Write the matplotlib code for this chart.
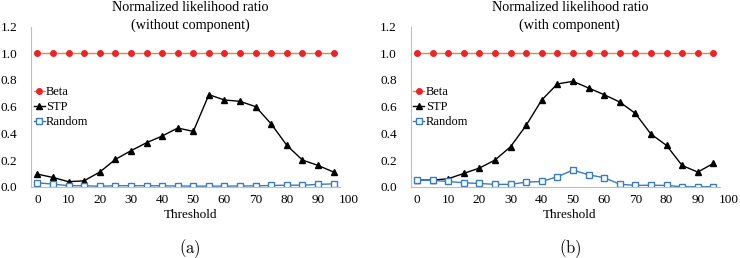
import matplotlib
matplotlib.use("Agg")
import matplotlib.pyplot as plt
from matplotlib import rcParams

rcParams.update({
    "font.family": "serif",
    "font.serif": ["Liberation Serif", "DejaVu Serif"],
    "mathtext.fontset": "cm",
    "font.size": 10,
})

thresholds = [0, 5, 10, 15, 20, 25, 30, 35, 40, 45, 50, 55, 60, 65, 70, 75, 80, 85, 90, 95]
beta = [1.0] * 20

stp_without = [0.095, 0.07, 0.038, 0.045, 0.11, 0.205, 0.27, 0.33, 0.38, 0.44,
               0.415, 0.69, 0.65, 0.64, 0.60, 0.47, 0.31, 0.20, 0.16, 0.11]
random_without = [0.03, 0.02, 0.008, 0.008, 0.004, 0.008, 0.008, 0.008, 0.007, 0.006,
                  0.005, 0.005, 0.005, 0.006, 0.007, 0.01, 0.012, 0.012, 0.018, 0.022]

stp_with = [0.05, 0.05, 0.06, 0.10, 0.14, 0.20, 0.30, 0.46, 0.65, 0.77,
            0.79, 0.74, 0.69, 0.635, 0.55, 0.395, 0.31, 0.16, 0.11, 0.175]
random_with = [0.05, 0.048, 0.04, 0.03, 0.025, 0.018, 0.018, 0.035, 0.04, 0.075,
               0.125, 0.09, 0.068, 0.02, 0.01, 0.012, 0.01, 0.0, 0.0, 0.0]

title_top = "Normalized likelihood ratio"
title_sub = ["(without component)", "(with component)"]
sub_labels = [r"$\mathrm{(a)}$", r"$\mathrm{(b)}$"]

fig = plt.figure(figsize=(7.4, 2.58), dpi=100)
boxes = [[0.042, 0.276, 0.43, 0.621], [0.555, 0.276, 0.43, 0.621]]
series = [(stp_without, random_without), (stp_with, random_with)]

for i in range(2):
    ax = fig.add_axes(boxes[i])
    stp, rnd = series[i]
    ax.plot(thresholds, beta, color="#F08040", lw=1, marker="o", ms=4,
            markerfacecolor="#E8262A", markeredgecolor="#E8262A", label="Beta")
    ax.plot(thresholds, stp, color="black", lw=1, marker="^", ms=5, label="STP")
    ax.plot(thresholds, rnd, color="#3A7CC0", lw=1, marker="s", ms=4,
            markerfacecolor="white", markeredgecolor="#3A7CC0", label="Random")

    ax.set_xlim(-2, 100)
    ax.set_ylim(0, 1.2)
    ax.set_xticks(range(0, 101, 10))
    ax.set_yticks([0, 0.2, 0.4, 0.6, 0.8, 1.0, 1.2])
    ax.set_yticklabels(["0.0", "0.2", "0.4", "0.6", "0.8", "1.0", "1.2"])
    ax.tick_params(axis="y", length=0, labelsize=9.5, pad=10)
    ax.tick_params(axis="x", length=0, labelsize=9.5, pad=5)
    ax.spines["top"].set_visible(False)
    ax.spines["right"].set_visible(False)
    ax.spines["left"].set_color("#BFBFBF")
    ax.spines["bottom"].set_color("#BFBFBF")
    ax.spines["bottom"].set_bounds(-2, 97)
    ax.set_xlabel("Threshold", fontsize=9.5, labelpad=2)
    ax.text(0.5, 1.117, title_top, transform=ax.transAxes, ha="center",
            va="center", fontsize=10.2)
    ax.text(0.5, 1.01, title_sub[i], transform=ax.transAxes, ha="center",
            va="center", fontsize=10.2)
    ax.legend(loc="upper left", bbox_to_anchor=(0.0, 0.645), frameon=False,
              fontsize=9, handlelength=0.9, handletextpad=0.1, labelspacing=0.25,
              borderaxespad=0.0, borderpad=0.2)
    ax.text(0.5, -0.383, sub_labels[i], transform=ax.transAxes, ha="center",
            va="center", fontsize=12)

plt.savefig("out.png", dpi=100)
